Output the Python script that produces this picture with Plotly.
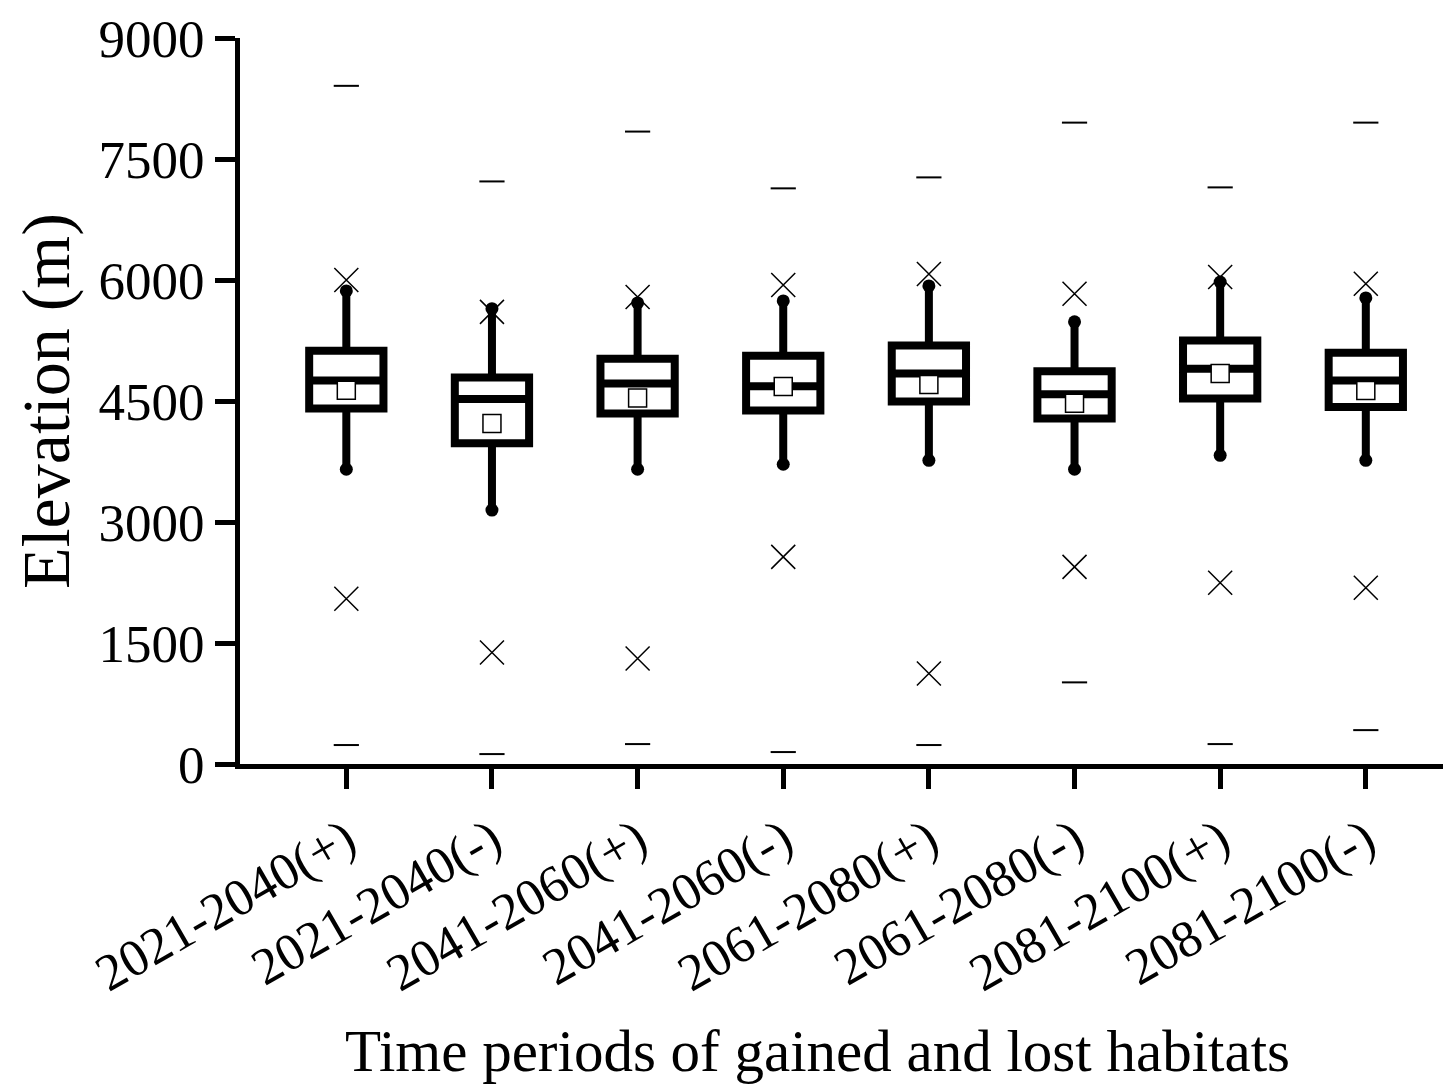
import plotly.graph_objects as go

categories = ["2021-2040(+)", "2021-2040(-)", "2041-2060(+)", "2041-2060(-)",
              "2061-2080(+)", "2061-2080(-)", "2081-2100(+)", "2081-2100(-)"]
q1 = [4407, 3975, 4346, 4383, 4494, 4284, 4531, 4426]
median = [4753, 4525, 4716, 4683, 4840, 4584, 4901, 4755]
q3 = [5123, 4790, 5025, 5062, 5188, 4870, 5249, 5099]
mean = [4633, 4222, 4537, 4681, 4703, 4473, 4840, 4630]
whisker_low = [3654, 3148, 3654, 3716, 3765, 3654, 3827, 3765]
whisker_high = [5864, 5645, 5716, 5741, 5926, 5481, 5975, 5778]
p1 = [2049, 1383, 1309, 2568, 1123, 2444, 2247, 2185]
p99 = [6000, 5605, 5790, 5938, 6074, 5830, 6037, 5954]
vmin = [235, 123, 247, 148, 235, 1012, 247, 420]
vmax = [8407, 7222, 7840, 7136, 7272, 7951, 7148, 7951]
yticks = [0, 1500, 3000, 4500, 6000, 7500, 9000]

xs = list(range(len(categories)))
FONT = "Liberation Serif, Times New Roman, serif"

fig = go.Figure()
fig.add_trace(go.Box(
    x=xs, q1=q1, median=median, q3=q3,
    lowerfence=whisker_low, upperfence=whisker_high,
    boxpoints=False, fillcolor="white",
    line=dict(color="black", width=8),
    width=0.51, whiskerwidth=0, showlegend=False, hoverinfo="skip",
))
# whisker caps
fig.add_trace(go.Scatter(
    x=xs + xs, y=whisker_low + whisker_high, mode="markers",
    marker=dict(symbol="circle", size=13, color="black"),
    showlegend=False, hoverinfo="skip",
))
# mean squares
fig.add_trace(go.Scatter(
    x=xs, y=mean, mode="markers",
    marker=dict(symbol="square", size=18, color="white",
                line=dict(color="black", width=1.5)),
    showlegend=False,
))
# 1% / 99% crosses
fig.add_trace(go.Scatter(
    x=xs + xs, y=p1 + p99, mode="markers",
    marker=dict(symbol="x-thin-open", size=24, color="black",
                line=dict(color="black", width=1.5)),
    showlegend=False,
))
# min / max dashes
fig.add_trace(go.Scatter(
    x=xs + xs, y=vmin + vmax, mode="markers",
    marker=dict(symbol="line-ew-open", size=18, color="black",
                line=dict(color="black", width=2)),
    showlegend=False,
))

fig.update_layout(
    width=1455, height=1091,
    margin=dict(l=232, r=20, t=30, b=335),
    paper_bgcolor="white", plot_bgcolor="white",
    font=dict(family=FONT, color="black"),
    xaxis=dict(
        range=[-0.73, 7.53], tickvals=xs, ticktext=categories,
        tickangle=-30, tickfont=dict(size=52, family=FONT),
        showline=True, linewidth=5, linecolor="black",
        ticks="outside", ticklen=20, tickwidth=5, tickcolor="black",
        showgrid=False, zeroline=False, ticklabeloverflow="allow",
        automargin=False,
    ),
    yaxis=dict(
        range=[0, 9000], tickvals=yticks, ticktext=[str(v) for v in yticks],
        tickfont=dict(size=53, family=FONT),
        showline=True, linewidth=5, linecolor="black",
        ticks="outside", ticklen=20, tickwidth=5, tickcolor="black",
        showgrid=False, zeroline=False, ticklabeloverflow="allow",
        automargin=False,
        title=dict(text="Elevation (m)", font=dict(size=68, family=FONT),
                   standoff=30),
    ),
    annotations=[dict(
        text="Time periods of gained and lost habitats",
        xref="paper", yref="paper", x=0.48, y=0, xanchor="center",
        yanchor="top", yshift=-252, showarrow=False,
        font=dict(size=59, family=FONT, color="black"),
    )],
)

fig.write_html("out.html")
